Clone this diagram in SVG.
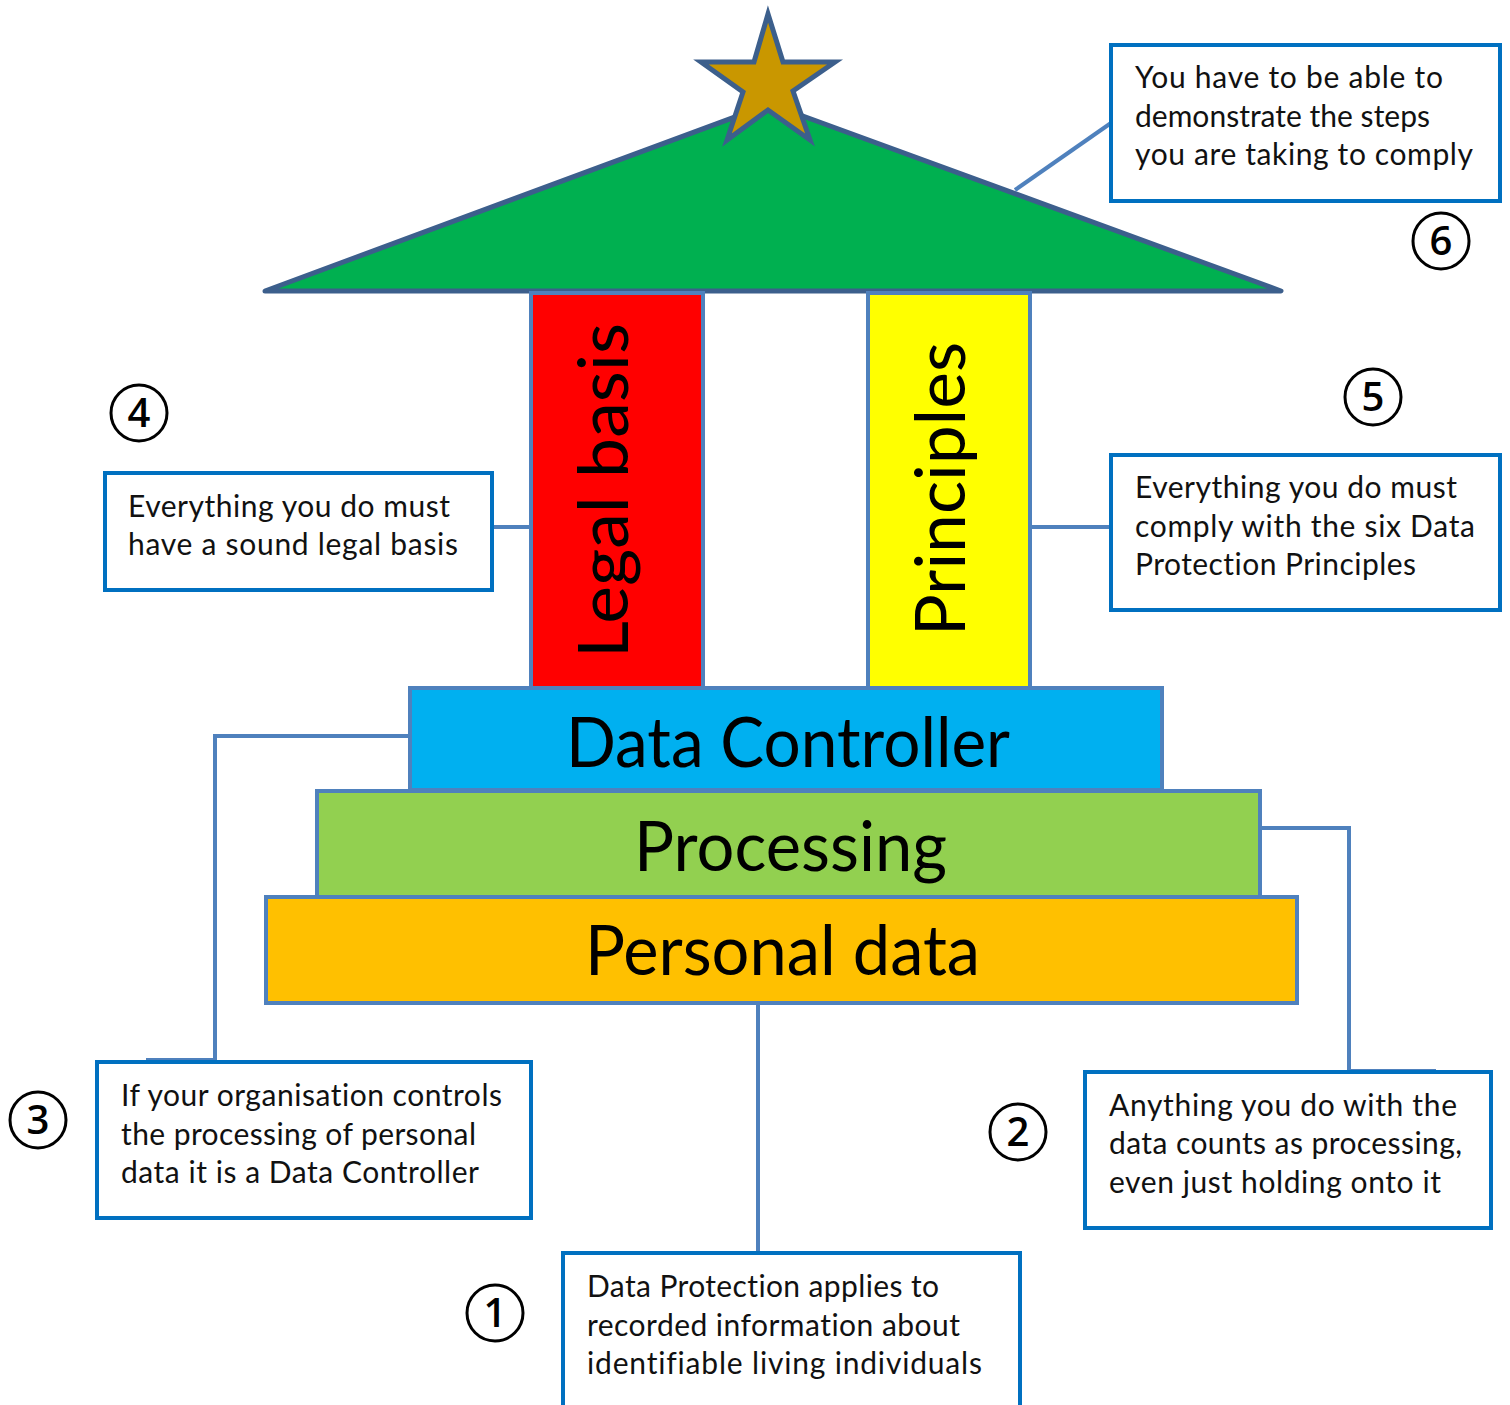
<svg xmlns="http://www.w3.org/2000/svg" width="1510" height="1405" viewBox="0 0 1510 1405">
  <style>
    .tier { stroke: #4F81BD; stroke-width: 4; }
    .big { font-family: Lato, "Open Sans", sans-serif; font-size: 70px; fill: #000; }
    .callout rect { fill: #fff; stroke: #0070C0; stroke-width: 4; }
    .callout text { font-family: Lato, "Open Sans", sans-serif; font-size: 30px; fill: #111; font-variant-ligatures: none; }
    .num circle { fill: none; stroke: #000; stroke-width: 3; }
    .num text { font-family: "Open Sans", "DejaVu Sans", sans-serif; font-size: 40px; font-weight: 600; text-anchor: middle; fill: #000; }
    .link { fill: none; stroke: #4F81BD; stroke-width: 4; }
  </style>

  <rect width="1510" height="1405" fill="#fff"/>

  <!-- roof and star -->
  <g id="roof">
    <polygon points="265,291 770,104 1281,291" fill="#00B050" stroke="#3C5F8C" stroke-width="5" stroke-linejoin="round"/>
  </g>
  <g id="star">
    <polygon points="768,14 754,62 701,62 743,92 727,140 768,110 810,140 793,91 835,62 783,62" fill="#C99700" stroke="#3C5F8C" stroke-width="5" stroke-linejoin="miter"/>
  </g>

  <!-- pillars -->
  <g id="legal-basis">
    <rect class="tier" x="531" y="293" width="172" height="395" fill="#FF0000"/>
    <text class="big" transform="translate(628,658) rotate(-90)" textLength="335" lengthAdjust="spacingAndGlyphs">Legal basis</text>
  </g>
  <g id="principles">
    <rect class="tier" x="868" y="293" width="162" height="395" fill="#FFFF00"/>
    <text class="big" transform="translate(965,636) rotate(-90)" textLength="294" lengthAdjust="spacingAndGlyphs">Principles</text>
  </g>

  <!-- foundation tiers -->
  <g id="personal-data">
    <rect class="tier" x="266" y="897" width="1031" height="106" fill="#FFC000"/>
    <text class="big" x="585" y="975" textLength="395" lengthAdjust="spacingAndGlyphs">Personal data</text>
  </g>
  <g id="processing">
    <rect class="tier" x="317" y="791" width="943" height="106" fill="#92D050"/>
    <text class="big" x="634" y="871" textLength="313" lengthAdjust="spacingAndGlyphs">Processing</text>
  </g>
  <g id="data-controller">
    <rect class="tier" x="410" y="688" width="752" height="102" fill="#00B0F0"/>
    <text class="big" x="566" y="767" textLength="444" lengthAdjust="spacingAndGlyphs">Data Controller</text>
  </g>

  <!-- connectors -->
  <g id="connectors">
    <line class="link" x1="758" y1="1005" x2="758" y2="1253"/>
    <polyline class="link" points="1262,828 1349,828 1349,1071 1436,1071"/>
    <polyline class="link" points="408,736 215,736 215,1060 146,1060"/>
    <line class="link" x1="492" y1="527" x2="529" y2="527"/>
    <line class="link" x1="1032" y1="527" x2="1111" y2="527"/>
    <line class="link" x1="1015" y1="190" x2="1111" y2="123"/>
  </g>

  <!-- callouts -->
  <g id="callout-1" class="callout">
    <rect x="563" y="1253" width="457" height="170"/>
    <text x="587" y="1297" textLength="352">Data Protection applies to</text>
    <text x="587" y="1336" textLength="373">recorded information about</text>
    <text x="587" y="1374" textLength="395">identifiable living individuals</text>
  </g>
  <g id="callout-2" class="callout">
    <rect x="1085" y="1072" width="406" height="156"/>
    <text x="1109" y="1116" textLength="348">Anything you do with the</text>
    <text x="1109" y="1154" textLength="353">data counts as processing,</text>
    <text x="1109" y="1193" textLength="332">even just holding onto it</text>
  </g>
  <g id="callout-3" class="callout">
    <rect x="97" y="1062" width="434" height="156"/>
    <text x="121" y="1106" textLength="381">If your organisation controls</text>
    <text x="121" y="1145" textLength="355">the processing of personal</text>
    <text x="121" y="1183" textLength="358">data it is a Data Controller</text>
  </g>
  <g id="callout-4" class="callout">
    <rect x="105" y="473" width="387" height="117"/>
    <text x="128" y="517" textLength="322">Everything you do must</text>
    <text x="128" y="555" textLength="330">have a sound legal basis</text>
  </g>
  <g id="callout-5" class="callout">
    <rect x="1111" y="455" width="389" height="155"/>
    <text x="1135" y="498" textLength="322">Everything you do must</text>
    <text x="1135" y="537" textLength="340">comply with the six Data</text>
    <text x="1135" y="575" textLength="281">Protection Principles</text>
  </g>
  <g id="callout-6" class="callout">
    <rect x="1111" y="45" width="389" height="156"/>
    <text x="1135" y="88" textLength="308">You have to be able to</text>
    <text x="1135" y="127" textLength="295">demonstrate the steps</text>
    <text x="1135" y="165" textLength="338">you are taking to comply</text>
  </g>

  <!-- step numbers -->
  <g id="num-1" class="num"><circle cx="495" cy="1313" r="28"/><text x="495" y="1327">1</text></g>
  <g id="num-2" class="num"><circle cx="1018" cy="1132" r="28"/><text x="1018" y="1146">2</text></g>
  <g id="num-3" class="num"><circle cx="38" cy="1120" r="28"/><text x="38" y="1134">3</text></g>
  <g id="num-4" class="num"><circle cx="139" cy="413" r="28"/><text x="139" y="427">4</text></g>
  <g id="num-5" class="num"><circle cx="1373" cy="397" r="28"/><text x="1373" y="411">5</text></g>
  <g id="num-6" class="num"><circle cx="1441" cy="241" r="28"/><text x="1441" y="255">6</text></g>
</svg>
